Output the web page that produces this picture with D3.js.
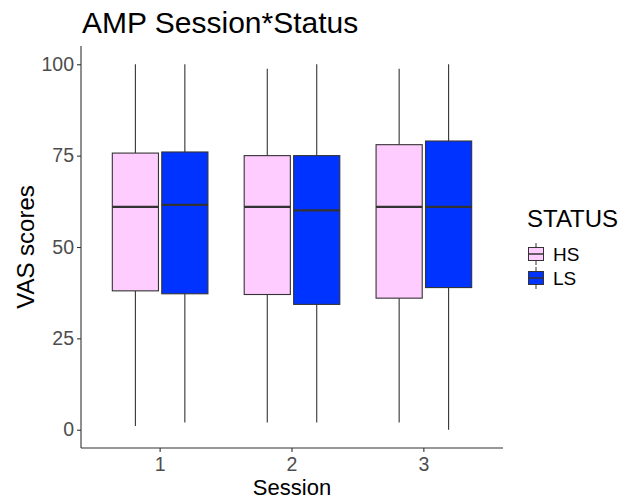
<!DOCTYPE html>
<html>
<head>
<meta charset="utf-8">
<script src="https://cdn.jsdelivr.net/npm/d3@7"></script>
<style>
  body { margin: 0; background: #fff; }
  svg text { font-family: "Liberation Sans", Arial, sans-serif; }
</style>
</head>
<body>
<svg id="chart" width="625" height="500"></svg>
<script>
// data
const sessions = ["1", "2", "3"];
const statuses = ["HS", "LS"];
const statusColors = ["#FFCCFF", "#0033FF"];
// per session, per status: [lowWhisker, q1, median, q3, highWhisker]
const hsStats = [[1, 38, 61, 75.7, 100], [2, 37, 61, 75, 98.8], [2, 36, 61, 78, 98.8]];
const lsStats = [[2, 37.2, 61.5, 76, 100], [2, 34.3, 60, 75, 100], [0, 38.9, 61, 79, 100]];
const yTicks = [0, 25, 50, 75, 100];

const svg = d3.select("#chart");
const plot = {left: 81, right: 503, top: 46, bottom: 448};

// ggplot discrete: domain 0.4..3.6
const unit = (plot.right - plot.left) / 3.2;
const xc = s => plot.left + (sessions.indexOf(s) + 1 - 0.4) * unit;
const dodge = d3.scaleBand().domain(statuses).range([-0.375 * unit, 0.375 * unit]);
const boxW = 0.35 * unit;

const y = d3.scaleLinear().domain([-5, 105]).range([plot.bottom, plot.top]);

const rows = [];
sessions.forEach((s, i) => {
  [hsStats, lsStats].forEach((st, j) => {
    const v = st[i];
    rows.push({session: s, status: statuses[j], color: statusColors[j],
      lo: v[0], q1: v[1], med: v[2], q3: v[3], hi: v[4]});
  });
});

const g = svg.append("g");
const boxes = g.selectAll("g.box").data(rows).enter().append("g").attr("class", "box")
  .attr("transform", d => `translate(${xc(d.session) + dodge(d.status) + dodge.bandwidth() / 2},0)`);

boxes.append("line").attr("x1", 0).attr("x2", 0)
  .attr("y1", d => y(d.hi)).attr("y2", d => y(d.q3))
  .attr("stroke", "#333").attr("stroke-width", 1.1);
boxes.append("line").attr("x1", 0).attr("x2", 0)
  .attr("y1", d => y(d.q1)).attr("y2", d => y(d.lo))
  .attr("stroke", "#333").attr("stroke-width", 1.1);
boxes.append("rect")
  .attr("x", -boxW / 2).attr("width", boxW)
  .attr("y", d => y(d.q3)).attr("height", d => y(d.q1) - y(d.q3))
  .attr("fill", d => d.color).attr("stroke", "#333").attr("stroke-width", 1.1);
boxes.append("line").attr("x1", -boxW / 2).attr("x2", boxW / 2)
  .attr("y1", d => y(d.med)).attr("y2", d => y(d.med))
  .attr("stroke", "#333").attr("stroke-width", 2.2);

// axes
const yAxis = svg.append("g").attr("transform", `translate(${plot.left},0)`)
  .call(d3.axisLeft(y).tickValues(yTicks).tickSize(4).tickPadding(3));
yAxis.select(".domain").attr("d", `M0,${plot.top}V${plot.bottom}`).attr("stroke", "#333").attr("stroke-width", 1.1);
yAxis.selectAll(".tick line").attr("stroke", "#333").attr("stroke-width", 1.1);
yAxis.selectAll(".tick text").attr("fill", "#4D4D4D").style("font-size", "19.5px");

const xAxis = svg.append("g").attr("transform", `translate(0,${plot.bottom})`);
xAxis.append("line").attr("x1", plot.left).attr("x2", plot.right)
  .attr("stroke", "#333").attr("stroke-width", 1.1);
const xt = xAxis.selectAll("g.tick").data(sessions).enter().append("g")
  .attr("transform", d => `translate(${xc(d)},0)`);
xt.append("line").attr("y2", 4).attr("stroke", "#333").attr("stroke-width", 1.1);
xt.append("text").attr("y", 23).attr("text-anchor", "middle")
  .attr("fill", "#4D4D4D").style("font-size", "19.5px").text(d => d);

// titles
svg.append("text").attr("x", 82).attr("y", 33).style("font-size", "30px").attr("fill", "#000")
  .text("AMP Session*Status");
svg.append("text").attr("x", (plot.left + plot.right) / 2).attr("y", 495)
  .attr("text-anchor", "middle").style("font-size", "22px").text("Session");
svg.append("text").attr("transform", `translate(34,${(plot.top + plot.bottom) / 2}) rotate(-90)`)
  .attr("text-anchor", "middle").style("font-size", "24px").text("VAS scores");

// legend
const leg = svg.append("g").attr("transform", "translate(527,0)");
leg.append("text").attr("x", 0).attr("y", 227).style("font-size", "24px").text("STATUS");
const keys = leg.selectAll("g.key").data(statuses).enter().append("g")
  .attr("transform", (d, i) => `translate(0,${242 + i * 24})`);
keys.append("line").attr("x1", 9).attr("x2", 9).attr("y1", 1).attr("y2", 23)
  .attr("stroke", "#333").attr("stroke-width", 1);
keys.append("rect").attr("x", 1.5).attr("y", 5.5).attr("width", 15).attr("height", 13)
  .attr("fill", (d, i) => statusColors[i]).attr("stroke", "#333").attr("stroke-width", 1);
keys.append("line").attr("x1", 1.5).attr("x2", 16.5).attr("y1", 12).attr("y2", 12)
  .attr("stroke", "#333").attr("stroke-width", 1.5);
keys.append("text").attr("x", 26).attr("y", 19).style("font-size", "19px").text(d => d);
</script>
</body>
</html>
